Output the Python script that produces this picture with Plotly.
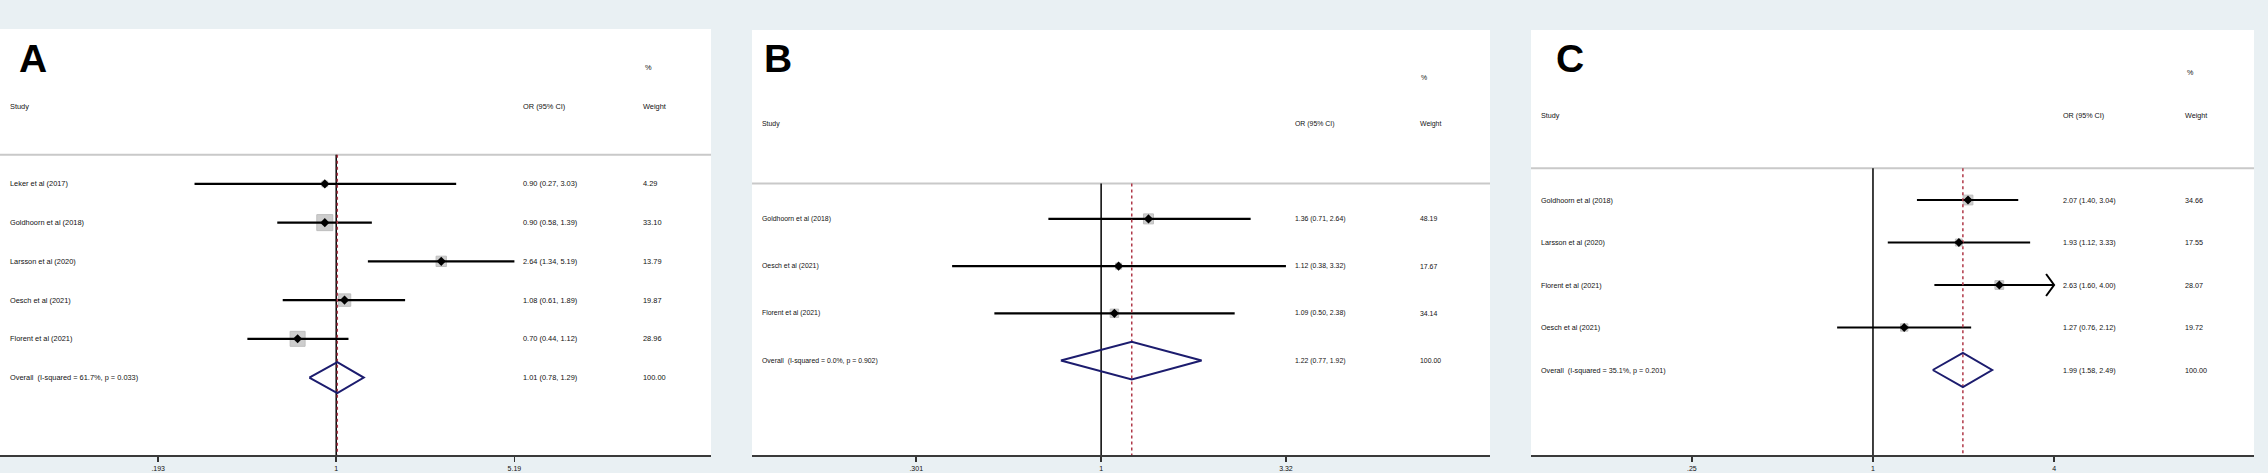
import math
import plotly.graph_objects as go

# ---------------- data ----------------
A_studies = ["Leker et al (2017)", "Goldhoorn et al (2018)", "Larsson et al (2020)",
             "Oesch et al (2021)", "Florent et al (2021)"]
A_or = [0.90, 0.90, 2.64, 1.08, 0.70]
A_lo = [0.27, 0.58, 1.34, 0.61, 0.44]
A_hi = [3.03, 1.39, 5.19, 1.89, 1.12]
A_weight = [4.29, 33.10, 13.79, 19.87, 28.96]
A_ci_truncated = [False, False, False, False, False]
A_overall = [1.01, 0.78, 1.29]
A_overall_label = "Overall  (I-squared = 61.7%, p = 0.033)"
A_tickvals = [0.193, 1, 5.19]
A_ticktext = [".193", "1", "5.19"]

B_studies = ["Goldhoorn et al (2018)", "Oesch et al (2021)", "Florent et al (2021)"]
B_or = [1.36, 1.12, 1.09]
B_lo = [0.71, 0.38, 0.50]
B_hi = [2.64, 3.32, 2.38]
B_weight = [48.19, 17.67, 34.14]
B_ci_truncated = [False, False, False]
B_overall = [1.22, 0.77, 1.92]
B_overall_label = "Overall  (I-squared = 0.0%, p = 0.902)"
B_tickvals = [0.301, 1, 3.32]
B_ticktext = [".301", "1", "3.32"]

C_studies = ["Goldhoorn et al (2018)", "Larsson et al (2020)", "Florent et al (2021)",
             "Oesch et al (2021)"]
C_or = [2.07, 1.93, 2.63, 1.27]
C_lo = [1.40, 1.12, 1.60, 0.76]
C_hi = [3.04, 3.33, 4.00, 2.12]
C_weight = [34.66, 17.55, 28.07, 19.72]
C_ci_truncated = [False, False, True, False]
C_overall = [1.99, 1.58, 2.49]
C_overall_label = "Overall  (I-squared = 35.1%, p = 0.201)"
C_tickvals = [0.25, 1, 4]
C_ticktext = [".25", "1", "4"]

# ---------------- style ----------------
W, H = 2268, 473
BG = "#e9f0f3"
TXT = "#111111"
FONT = "Liberation Sans, Arial, sans-serif"
BOX_FILL = "#b9b9b9"
DIAMOND = "#1c1c6e"
RED = "#b03848"

panels = [
    dict(letter="A", studies=A_studies, est=A_or, lo=A_lo, hi=A_hi, w=A_weight,
         trunc=A_ci_truncated, ov=A_overall, ovlab=A_overall_label,
         tv=A_tickvals, tt=A_ticktext,
         px=(0, 711), py=(29, 455), letter_dx=19, box_k=2.78, fs=7.4),
    dict(letter="B", studies=B_studies, est=B_or, lo=B_lo, hi=B_hi, w=B_weight,
         trunc=B_ci_truncated, ov=B_overall, ovlab=B_overall_label,
         tv=B_tickvals, tt=B_ticktext,
         px=(752, 1490), py=(30, 455), letter_dx=12, box_k=1.44, fs=6.9),
    dict(letter="C", studies=C_studies, est=C_or, lo=C_lo, hi=C_hi, w=C_weight,
         trunc=C_ci_truncated, ov=C_overall, ovlab=C_overall_label,
         tv=C_tickvals, tt=C_ticktext,
         px=(1531, 2254), py=(30, 455), letter_dx=25, box_k=1.65, fs=7.2),
]

fig = go.Figure()
annotations = []
shapes = []

for i, p in enumerate(panels):
    sfx = "" if i == 0 else str(i + 1)
    xa, ya = "x" + sfx, "y" + sfx
    n = len(p["studies"])
    rows = list(range(n))
    ov_row = n
    ybot = n + 2
    ytop = -4
    hdr_y = -0.75

    # x range (log10) from tick extremes: ticks sit at 22.25% and 72.35% of width
    lo_t, hi_t = math.log10(p["tv"][0]), math.log10(p["tv"][-1])
    D = hi_t - lo_t
    f0, f1 = 0.2225, 0.7235
    span = D / (f1 - f0)
    xr = [lo_t - f0 * span, lo_t - f0 * span + span]
    width_px = p["px"][1] - p["px"][0]
    height_px = p["py"][1] - p["py"][0]
    px_per_dec = width_px / span
    px_per_row = height_px / (ybot - ytop)

    fig.update_layout(**{
        "xaxis" + sfx: dict(
            domain=[p["px"][0] / W, p["px"][1] / W], anchor=ya, type="log",
            range=xr, tickvals=p["tv"], ticktext=p["tt"], ticks="outside",
            ticklen=5, tickwidth=1.5, tickcolor="#333333", showline=True,
            linecolor="#3a3a3a", linewidth=2, showgrid=False, zeroline=False,
            ticklabelstandoff=1,
            tickfont=dict(size=7, color=TXT, family=FONT), fixedrange=True),
        "yaxis" + sfx: dict(
            domain=[1 - p["py"][1] / H, 1 - p["py"][0] / H], anchor=xa,
            range=[ybot, ytop], showticklabels=False, showgrid=False,
            zeroline=False, showline=False, fixedrange=True),
    })

    # null line
    fig.add_trace(go.Scatter(x=[1, 1], y=[hdr_y, ybot], mode="lines",
                             line=dict(color="#000000", width=1.5),
                             xaxis=xa, yaxis=ya, hoverinfo="skip", showlegend=False))
    # weight boxes
    fig.add_trace(go.Scatter(
        x=p["est"], y=rows, mode="markers", xaxis=xa, yaxis=ya, showlegend=False,
        marker=dict(symbol="square", size=[p["box_k"] * math.sqrt(w) for w in p["w"]],
                    color=BOX_FILL, line=dict(color="#a3a3a3", width=1)),
        hoverinfo="skip"))
    # CI lines
    cx, cy = [], []
    for r, l, h in zip(rows, p["lo"], p["hi"]):
        cx += [l, h, None]
        cy += [r, r, None]
    fig.add_trace(go.Scatter(x=cx, y=cy, mode="lines", xaxis=xa, yaxis=ya,
                             line=dict(color="#000000", width=2.2),
                             hoverinfo="skip", showlegend=False))
    # arrows where CI runs past the axis limit
    ax_, ay_ = [], []
    d = 8 / px_per_dec
    hh = 11 / px_per_row
    for r, h, t in zip(rows, p["hi"], p["trunc"]):
        if t:
            back = 10 ** (math.log10(h) - d)
            ax_ += [back, h, back, None]
            ay_ += [r - hh, r, r + hh, None]
    if ax_:
        fig.add_trace(go.Scatter(x=ax_, y=ay_, mode="lines", xaxis=xa, yaxis=ya,
                                 line=dict(color="#000000", width=2),
                                 hoverinfo="skip", showlegend=False))
    # overall dashed line
    fig.add_trace(go.Scatter(x=[p["ov"][0]] * 2, y=[hdr_y, ybot], mode="lines",
                             line=dict(color=RED, width=1.5, dash="3px,3px"),
                             xaxis=xa, yaxis=ya, hoverinfo="skip", showlegend=False))
    # overall diamond
    e, l, h = p["ov"]
    fig.add_trace(go.Scatter(x=[l, e, h, e, l], y=[ov_row, ov_row - 0.4, ov_row, ov_row + 0.4, ov_row],
                             mode="lines", line=dict(color=DIAMOND, width=2),
                             xaxis=xa, yaxis=ya, hoverinfo="skip", showlegend=False))
    # point estimates
    fig.add_trace(go.Scatter(x=p["est"], y=rows, mode="markers", xaxis=xa, yaxis=ya,
                             marker=dict(symbol="diamond", size=7, color="#000000"),
                             hoverinfo="skip", showlegend=False))

    # header separator
    shapes.append(dict(type="line", xref=xa + " domain", yref=ya, x0=0, x1=1,
                       y0=hdr_y, y1=hdr_y, line=dict(color="#c9c9c9", width=2), layer="below"))

    fnt = dict(size=p["fs"], color=TXT, family=FONT)
    col_study = 8 / width_px
    col_or, col_w = 0.733, 0.902

    def txt(x, y, s):
        annotations.append(dict(xref=xa + " domain", yref=ya, x=x, y=y, text=s,
                                showarrow=False, xanchor="left", yanchor="middle", font=fnt))

    txt(col_study, -2, "Study")
    txt(col_or, -2, "OR (95% CI)")
    txt(col_w, -2, "Weight")
    txt(col_w + 0.002, -3, "%")
    for r, s, e_, l_, h_, w_ in zip(rows, p["studies"], p["est"], p["lo"], p["hi"], p["w"]):
        txt(col_study, r, s)
        txt(col_or, r, f"{e_:.2f} ({l_:.2f}, {h_:.2f})")
        txt(col_w, r, f"{w_:.2f}")
    txt(col_study, ov_row, p["ovlab"])
    txt(col_or, ov_row, f"{p['ov'][0]:.2f} ({p['ov'][1]:.2f}, {p['ov'][2]:.2f})")
    txt(col_w, ov_row, "100.00")

    # panel letter
    annotations.append(dict(xref="paper", yref="paper",
                            x=(p["px"][0] + p["letter_dx"] - 2) / W, y=1 - 59 / H,
                            text="<b>" + p["letter"] + "</b>", showarrow=False,
                            xanchor="left", yanchor="middle",
                            font=dict(size=39, color="#000000", family=FONT)))

fig.update_layout(width=W, height=H, margin=dict(l=0, r=0, t=0, b=0),
                  paper_bgcolor=BG, plot_bgcolor="#ffffff", showlegend=False,
                  annotations=annotations, shapes=shapes)

fig.write_html("out.html", config={"displayModeBar": False, "staticPlot": True},
               post_script="document.body.style.margin='0px';document.body.style.overflow='hidden';")
